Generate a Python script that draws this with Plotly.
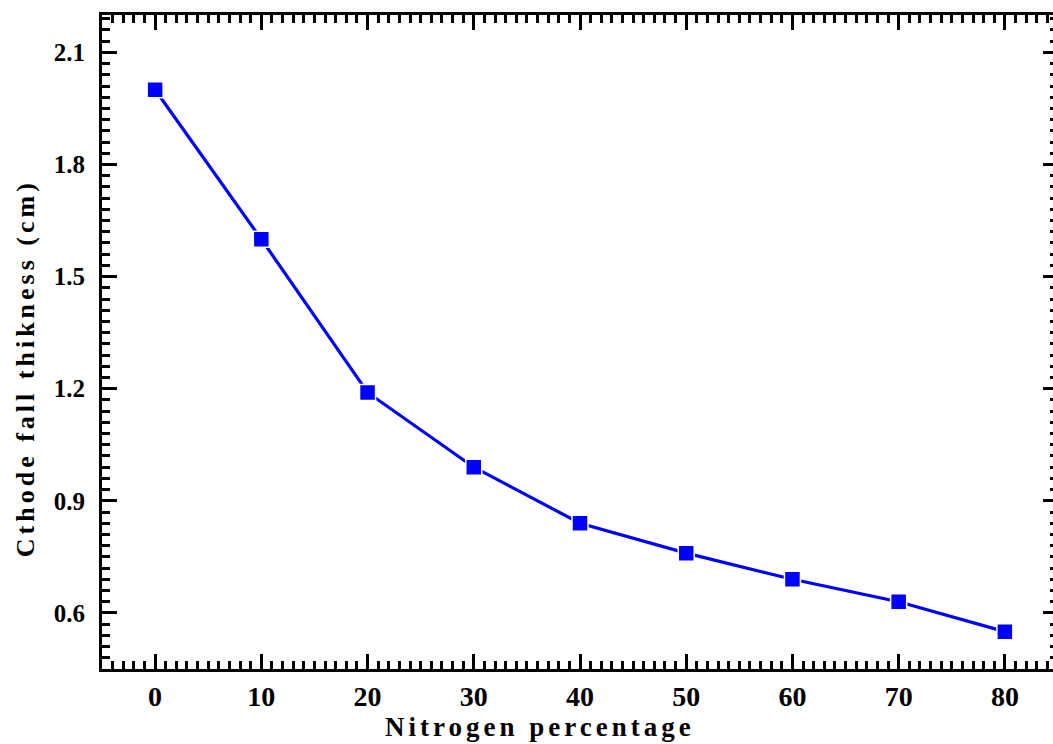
import plotly.graph_objects as go

# Nitrogen percentage in the gas mixture and the measured cathode fall thickness
nitrogen_pct = [0, 10, 20, 30, 40, 50, 60, 70, 80]
fall_thickness_cm = [2.0, 1.6, 1.19, 0.99, 0.84, 0.76, 0.69, 0.63, 0.55]

x_tick_vals = [0, 10, 20, 30, 40, 50, 60, 70, 80]
y_tick_vals = [0.6, 0.9, 1.2, 1.5, 1.8, 2.1]
y_tick_text = ["0.6", "0.9", "1.2", "1.5", "1.8", "2.1"]

x_title = "Nitrogen percentage"
y_title = "Cthode fall thikness (cm)"

FONT = '"Liberation Serif", "Times New Roman", Times, serif'
BLUE = "#0000FF"

fig = go.Figure()
fig.add_trace(go.Scatter(
    x=nitrogen_pct,
    y=fall_thickness_cm,
    mode="lines+markers",
    line=dict(color=BLUE, width=3.2),
    marker=dict(symbol="square", size=16, color=BLUE,
                line=dict(color="white", width=1.5)),
    showlegend=False,
))

axis_common = dict(
    showline=True, linecolor="black", linewidth=3, mirror="allticks",
    ticks="inside", ticklen=15, tickwidth=3, tickcolor="black",
    showgrid=False, zeroline=False,
)

fig.update_xaxes(
    range=[-5, 85], tickvals=x_tick_vals,
    minor=dict(ticks="inside", ticklen=8, tickwidth=2.5, dtick=1,
               tick0=0, tickcolor="black"),
    ticklabelstandoff=0,
    tickfont=dict(family=FONT, size=28, color="black", weight="bold"),
    **axis_common,
)
fig.update_yaxes(
    range=[0.45, 2.2], tickvals=y_tick_vals, ticktext=y_tick_text,
    minor=dict(ticks="inside", ticklen=8, tickwidth=2.5, dtick=0.03,
               tick0=0.6, tickcolor="black"),
    ticklabelstandoff=9,
    tickfont=dict(family=FONT, size=25, color="black", weight="bold"),
    **axis_common,
)

fig.add_annotation(
    text=x_title, xref="paper", yref="paper", x=0.4578, y=-0.0885,
    showarrow=False, xanchor="center", yanchor="middle",
    font=dict(family=FONT, size=27, color="black", weight="bold"),
)
fig.add_annotation(
    text=y_title, xref="paper", yref="paper", x=-0.0798, y=0.4595,
    textangle=-90, showarrow=False, xanchor="center", yanchor="middle",
    font=dict(family=FONT, size=26, color="black", weight="bold"),
)

fig.update_layout(
    width=1070, height=744,
    margin=dict(l=102, r=9, t=15, b=75),
    paper_bgcolor="white", plot_bgcolor="white",
)

# Spaced-out lettering for the axis titles; hide page overflow on the right
post = """
document.documentElement.style.overflow = 'hidden';
document.body.style.overflow = 'hidden';
document.querySelectorAll('.annotation-text').forEach(function (t) {
    t.style.letterSpacing = '4px';
});
"""

fig.write_html("out.html", post_script=post)
